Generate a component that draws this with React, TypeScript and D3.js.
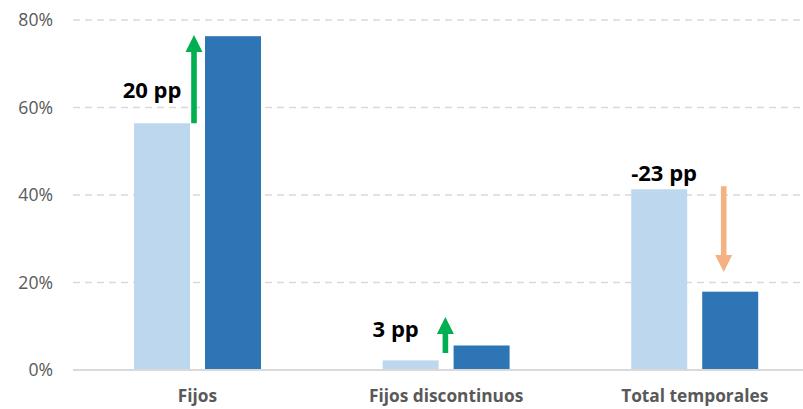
import React from "react";
import * as d3 from "d3";

const categories = ["Fijos", "Fijos discontinuos", "Total temporales"];
const seriesNames = ["Antes", "Después"];
const seriesBefore = [56.4, 2.2, 41.3];
const seriesAfter = [76.3, 5.6, 17.9];
const yTicks = [0, 20, 40, 60, 80];
const annotationLabels = ["20 pp", "3 pp", "-23 pp"];
// arrow start / end values (in %)
const arrowFrom = [56.4, 3.9, 42.0];
const arrowTo = [76.6, 12.1, 22.4];
const labelValues = [62.2, 7.5, 43.2];

const W = 803;
const H = 409;
const colors = ["#BDD7EE", "#2E75B6"];
const arrowColors = ["#00B050", "#00B050", "#F4B183"];
const arrowDx = [-3.5, -0.7, 29];
const labelDx = [-11.3, -10, 0];

export default function App() {
  const y = d3.scaleLinear().domain([0, 80]).range([370, 20]);
  const x = d3.scaleBand<string>().domain(categories).range([73.2, 819]).paddingInner(0).paddingOuter(0);
  const groupW = 127;
  const xs = d3.scaleBand<string>().domain(seriesNames).range([0, groupW]).paddingInner(15 / 71).paddingOuter(0);
  const bw = xs.bandwidth();
  const series = [seriesBefore, seriesAfter];

  return (
    <svg width={W} height={H} style={{ position: "absolute", left: 0, top: 0, background: "#fff" }}>
      {yTicks.map((t) =>
        t === 0 ? null : (
          <line key={"g" + t} x1={73} x2={803} y1={y(t)} y2={y(t)} stroke="#D9D9D9" strokeWidth={1.5} strokeDasharray="7,5" />
        )
      )}
      {yTicks.map((t) => (
        <text key={"t" + t} x={53} y={y(t)} dy="0.36em" textAnchor="end" fontFamily="'Open Sans', sans-serif" fontSize={17.6} fill="#595959">
          {t + "%"}
        </text>
      ))}
      {categories.map((c, i) => {
        const cx = (x(c) as number) + x.bandwidth() / 2;
        const g0 = cx - groupW / 2;
        return (
          <g key={c}>
            {series.map((s, k) => (
              <rect
                key={k}
                x={g0 + (xs(seriesNames[k]) as number)}
                y={y(s[i])}
                width={bw}
                height={y(0) - y(s[i])}
                fill={colors[k]}
              />
            ))}
          </g>
        );
      })}
      <line x1={73} x2={803} y1={y(0)} y2={y(0)} stroke="#D9D9D9" strokeWidth={2} />
      {categories.map((c, i) => {
        const cx = (x(c) as number) + x.bandwidth() / 2;
        const ax = cx + arrowDx[i];
        const y0 = y(arrowFrom[i]);
        const y1 = y(arrowTo[i]);
        const dir = y1 < y0 ? -1 : 1;
        const headLen = 17;
        const headHalf = 8.5;
        const shaftHalf = 2.8;
        const yb = y1 - dir * headLen;
        const pts = [
          [ax - shaftHalf, y0],
          [ax - shaftHalf, yb],
          [ax - headHalf, yb],
          [ax, y1],
          [ax + headHalf, yb],
          [ax + shaftHalf, yb],
          [ax + shaftHalf, y0],
        ];
        const lightLeft = cx - groupW / 2 + (xs(seriesNames[0]) as number);
        return (
          <g key={"a" + c}>
            <polygon points={pts.map((p) => p.join(",")).join(" ")} fill={arrowColors[i]} />
            <text
              x={lightLeft + labelDx[i]}
              y={y(labelValues[i])}
              fontFamily="'Open Sans', sans-serif"
              fontWeight={700}
              fontSize={22}
              fill="#000"
            >
              {annotationLabels[i]}
            </text>
            <text
              x={cx}
              y={401.7}
              textAnchor="middle"
              fontFamily="'Open Sans', sans-serif"
              fontWeight={700}
              fontSize={17.3}
              fill="#595959"
            >
              {c}
            </text>
          </g>
        );
      })}
    </svg>
  );
}
